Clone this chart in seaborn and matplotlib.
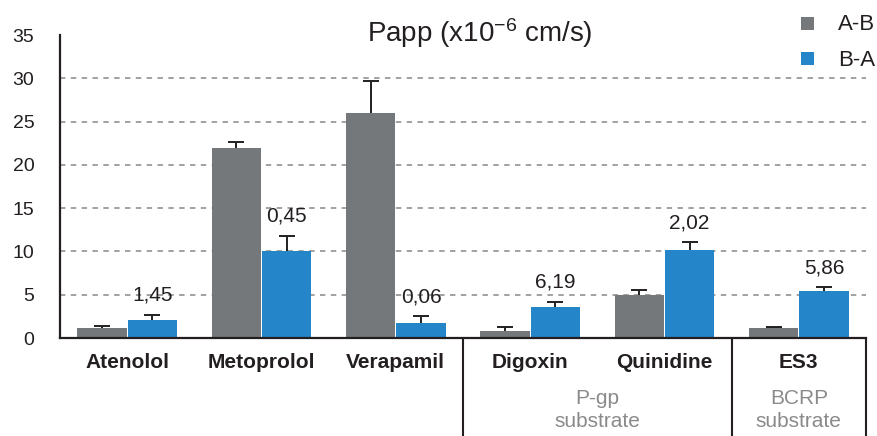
import numpy as np
import pandas as pd
import matplotlib.pyplot as plt
import seaborn as sns
from matplotlib.patches import Rectangle

# Data
compounds = ["Atenolol", "Metoprolol", "Verapamil", "Digoxin", "Quinidine", "ES3"]
directions = ["A-B", "B-A"]
papp_ab = [1.2, 22.0, 26.0, 0.8, 5.0, 1.2]
papp_ba = [2.1, 10.1, 1.7, 3.6, 10.2, 5.4]
err_ab = [0.2, 0.6, 3.7, 0.5, 0.6, 0.05]
err_ba = [0.6, 1.7, 0.8, 0.6, 0.9, 0.5]
ratio_labels = ["1,45", "0,45", "0,06", "6,19", "2,02", "5,86"]
groups = {"P-gp\nsubstrate": ["Digoxin", "Quinidine"],
          "BCRP\nsubstrate": ["ES3"]}

colors = ["#75787b", "#2585c9"]
text_col = "#231f20"

sns.set_style("white")
plt.rcParams["font.family"] = ["Liberation Sans", "DejaVu Sans"]
plt.rcParams["mathtext.fontset"] = "custom"
plt.rcParams["mathtext.rm"] = "Liberation Sans"
plt.rcParams["mathtext.default"] = "regular"

df = pd.DataFrame({
    "compound": compounds * 2,
    "direction": [directions[0]] * len(compounds) + [directions[1]] * len(compounds),
    "papp": papp_ab + papp_ba,
})

fig = plt.figure(figsize=(8.78, 4.36), dpi=100)
ax = fig.add_axes([60 / 878, 1 - 338 / 436, 806 / 878, 303 / 436])

sns.barplot(data=df, x="compound", y="papp", hue="direction", order=compounds,
            hue_order=directions, palette=colors, width=0.75, gap=0.02,
            errorbar=None, legend=False, linewidth=0, saturation=1, ax=ax, zorder=2)

# error bars: drawn under the bars so only the upper half shows
n = len(compounds)
bars_ab = ax.patches[:n]
bars_ba = ax.patches[n:2 * n]
for bars, vals, errs in [(bars_ab, papp_ab, err_ab), (bars_ba, papp_ba, err_ba)]:
    xs = [b.get_x() + b.get_width() / 2 for b in bars]
    ax.errorbar(xs, vals, yerr=errs, fmt="none", ecolor=text_col,
                elinewidth=1.4, capsize=5.5, capthick=1.4, zorder=1.5)

for b, v, e, lbl in zip(bars_ba, papp_ba, err_ba, ratio_labels):
    ax.annotate(lbl, (b.get_x() + b.get_width() / 2, v + e), xytext=(0, 10),
                textcoords="offset points", ha="center", va="baseline",
                fontsize=15, color=text_col)

ax.set_ylim(0, 35)
ax.set_xlim(-0.5, n - 0.5)
yt = np.arange(0, 36, 5)
ax.set_yticks(yt)
for y in yt[1:-1]:
    ax.axhline(y, color="#9a9a9a", lw=1.3, ls=(0, (3, 3)), zorder=0.5)

# boundaries as major ticks, names as minor tick labels
ax.set_xticks(np.arange(-0.5, n, 1.0))
ax.set_xticklabels([])
ax.set_xticks(range(n), minor=True)
ax.set_xticklabels(compounds, minor=True, fontweight="bold", fontsize=15, color=text_col)
ax.tick_params(axis="x", which="major", direction="out", length=7, width=1.5, color=text_col)
ax.tick_params(axis="x", which="minor", length=0, pad=10.5)
ax.tick_params(axis="y", direction="out", length=6.5, width=1.5, color=text_col,
               labelsize=14, labelcolor=text_col, pad=12)
ax.set_xlabel("")
ax.set_ylabel("")

for s in ["top", "right"]:
    ax.spines[s].set_visible(False)
for s in ["left", "bottom"]:
    ax.spines[s].set_linewidth(1.6)
    ax.spines[s].set_color(text_col)

# group separators and group labels below the axis
drop = -98 / 303
seps = set()
for name, members in groups.items():
    idx = [compounds.index(m) for m in members]
    seps.update([min(idx) - 0.5, max(idx) + 0.5])
    ax.text(np.mean(idx), -(410 - 338) / 303, name, transform=ax.get_xaxis_transform(),
            ha="center", va="center", fontsize=15, color="#8a8a8a", linespacing=1.3)
for xb in sorted(seps):
    ax.plot([xb, xb], [0, drop], transform=ax.get_xaxis_transform(),
            color=text_col, lw=1.5, clip_on=False)

fig.text(480 / 878, 1 - 42 / 436, "Papp (x10$^{-6}$ cm/s)", ha="center", va="baseline",
         fontsize=20, color=text_col)

# legend: colour squares with labels, top right
for i, (c, lbl) in enumerate(zip(colors, directions)):
    top = 17 + i * 35
    fig.add_artist(Rectangle((801 / 878, 1 - (top + 13) / 436), 13 / 878, 13 / 436,
                             transform=fig.transFigure, color=c, lw=0))
    fig.text(838 / 878, 1 - (top + 13.5) / 436, lbl, ha="left", va="baseline",
             fontsize=16, color=text_col)

fig.savefig("out.png", dpi=100)
